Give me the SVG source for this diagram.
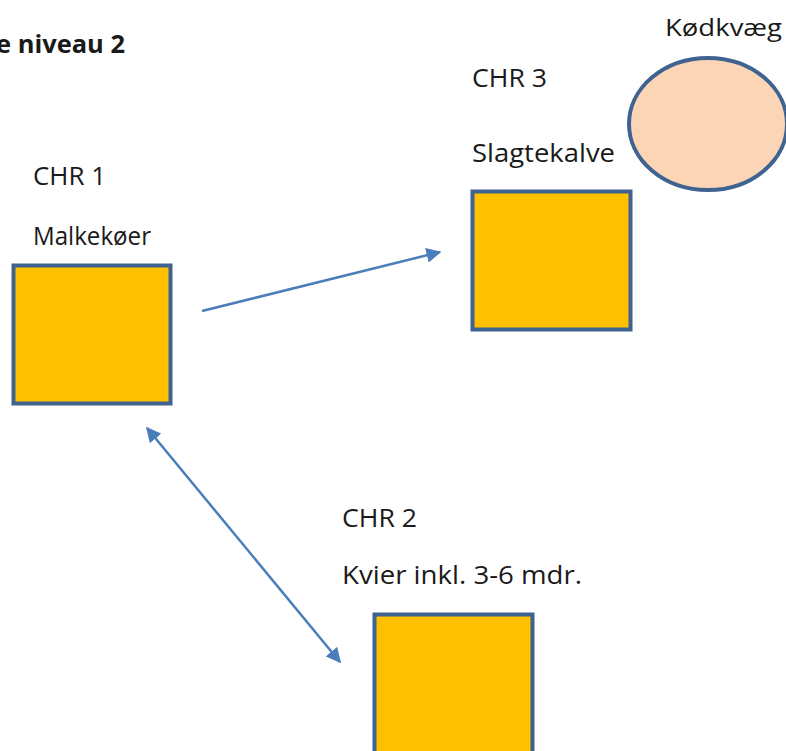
<svg xmlns="http://www.w3.org/2000/svg" width="786" height="751" viewBox="0 0 786 751">
<style>
text{font-family:"Open Sans","Liberation Sans",sans-serif;fill:#1a1a1a;font-size:25px}
.t{font-weight:bold}
.box{fill:#FFC000;stroke:#3F6391;stroke-width:4}
.conn{stroke:#4A7EBB;stroke-width:2.5;fill:none}
</style>
<defs>
<marker id="ah" viewBox="0 0 10 10" refX="9" refY="5" markerWidth="6" markerHeight="6" orient="auto-start-reverse" markerUnits="strokeWidth">
<path d="M0,0 L10,5 L0,10 z" fill="#4A7EBB"/>
</marker>
</defs>
<rect width="786" height="751" fill="#ffffff"/>
<text class="t" x="-4" y="53" textLength="129" lengthAdjust="spacingAndGlyphs">e niveau 2</text>
<g id="chr1">
<text x="33" y="185" textLength="73" lengthAdjust="spacingAndGlyphs">CHR 1</text>
<text x="33" y="245" textLength="118" lengthAdjust="spacingAndGlyphs">Malkekøer</text>
<rect class="box" x="13.5" y="265.5" width="157" height="138"/>
</g>
<g id="chr3">
<text x="472" y="87" textLength="75" lengthAdjust="spacingAndGlyphs">CHR 3</text>
<text x="472" y="162" textLength="143" lengthAdjust="spacingAndGlyphs">Slagtekalve</text>
<rect class="box" x="472.5" y="191.5" width="158" height="138"/>
</g>
<g id="chr2">
<text x="342" y="527" textLength="75" lengthAdjust="spacingAndGlyphs">CHR 2</text>
<text x="342" y="584" textLength="240" lengthAdjust="spacingAndGlyphs">Kvier inkl. 3-6 mdr.</text>
<rect class="box" x="374.5" y="614.5" width="158" height="140"/>
</g>
<g id="kodkvaeg">
<text x="665" y="36" style="font-size:24px" textLength="117" lengthAdjust="spacingAndGlyphs">Kødkvæg</text>
<ellipse cx="708" cy="124" rx="79" ry="66" fill="#FBD5B5" stroke="#3F6391" stroke-width="4"/>
</g>
<g id="connectors">
<line class="conn" x1="202" y1="311" x2="440" y2="252" marker-end="url(#ah)"/>
<line class="conn" x1="147" y1="428" x2="340" y2="662" marker-start="url(#ah)" marker-end="url(#ah)"/>
</g>
</svg>
